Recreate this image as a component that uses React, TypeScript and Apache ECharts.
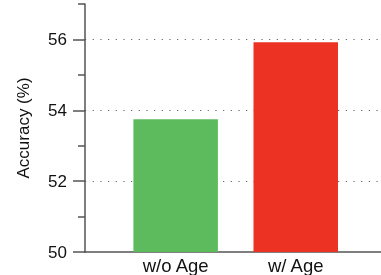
import React, { useEffect, useRef } from "react";
import * as echarts from "echarts";

const categories = ["w/o Age", "w/ Age"];
const accuracy = [53.75, 55.92];
const barColors = ["#5dbb5e", "#ec3323"];
const majorTicks = [50, 52, 54, 56];
const minorTicks = [51, 53, 55, 57];

export default function App() {
  const ref = useRef<HTMLDivElement>(null);
  useEffect(() => {
    if (!ref.current) return;
    const chart = echarts.init(ref.current, null, { renderer: "svg" });
    const font = "'Liberation Sans', Arial, Helvetica, sans-serif";
    const axisColor = "#555";
    chart.setOption({
      animation: false,
      grid: { left: 85, right: 0, top: 4, bottom: 23, containLabel: false },
      xAxis: {
        type: "value",
        min: -0.755,
        max: 1.71,
        axisLine: { show: true, onZero: false, lineStyle: { color: axisColor, width: 1.5 } },
        axisTick: { show: false },
        splitLine: { show: false },
        axisLabel: {
          customValues: [0, 1],
          formatter: (v: number) => categories[Math.round(v)] ?? "",
          fontSize: 18.5,
          fontFamily: font,
          color: "#111",
          margin: 4,
          showMinLabel: true,
          showMaxLabel: true,
        },
      },
      yAxis: [
        {
          type: "value",
          min: 50,
          max: 57,
          interval: 2,
          name: "Accuracy (%)",
          nameLocation: "middle",
          nameGap: 53,
          nameTextStyle: { fontSize: 17, fontFamily: font, color: "#111" },
          axisLine: { show: true, onZero: false, lineStyle: { color: axisColor, width: 1.5 } },
          axisTick: {
            show: true,
            customValues: majorTicks,
            length: 12,
            lineStyle: { color: axisColor, width: 1.5 },
          },
          axisLabel: {
            customValues: majorTicks,
            fontSize: 17,
            fontFamily: font,
            color: "#111",
            margin: 18,
          },
          splitLine: {
            show: true,
            showMinLine: false,
            showMaxLine: true,
            lineStyle: { color: "#666", width: 1, type: [1.2, 6.47] },
          },
        },
        {
          type: "value",
          min: 50,
          max: 57,
          interval: 1,
          position: "left",
          axisLine: { show: false, onZero: false },
          axisTick: {
            show: true,
            customValues: minorTicks,
            length: 7,
            lineStyle: { color: axisColor, width: 1.5 },
          },
          axisLabel: { show: false },
          splitLine: { show: false },
        },
      ],
      series: [
        {
          type: "bar",
          barWidth: 84.5,
          data: accuracy.map((v, i) => ({
            value: [i, v],
            itemStyle: { color: barColors[i] },
          })),
        },
      ],
    });
    return () => chart.dispose();
  }, []);
  return (
    <div
      ref={ref}
      style={{ position: "fixed", left: 0, top: 0, width: 381, height: 275 }}
    />
  );
}
